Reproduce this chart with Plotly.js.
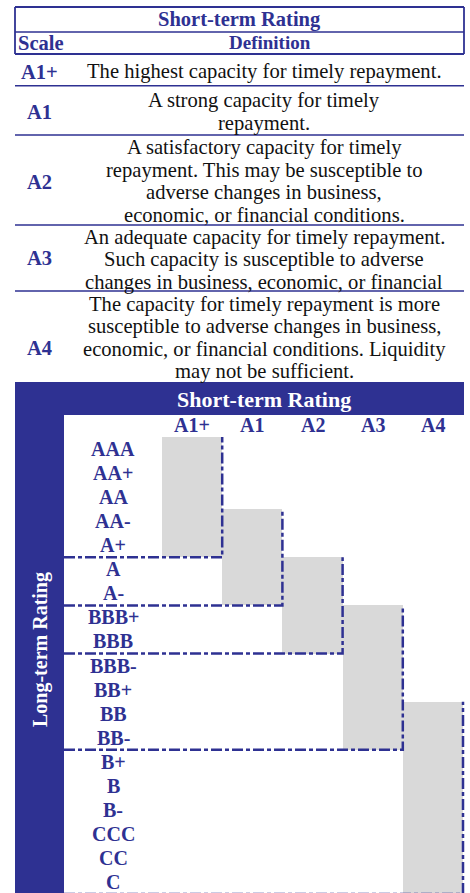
<!DOCTYPE html>
<html>
<head>
<meta charset="utf-8">
<script src="https://cdn.plot.ly/plotly-3.0.1.min.js"></script>
<style>html,body{margin:0;padding:0;background:#fff;}#chart{width:470px;height:893px;}</style>
</head>
<body>
<div id="chart"></div>
<script>
// ---------- DATA ----------
const tableTitle = 'Short-term Rating';
const tableHeaders = ['Scale', 'Definition'];
const scaleLabels = ['A1+', 'A1', 'A2', 'A3', 'A4'];
const definitions = [
  ['The highest capacity for timely repayment.'],
  ['A strong capacity for timely', 'repayment.'],
  ['A satisfactory capacity for timely', 'repayment. This may be susceptible to', 'adverse changes in business,', 'economic, or financial conditions.'],
  ['An adequate capacity for timely repayment.', 'Such capacity is susceptible to adverse', 'changes in business, economic, or financial'],
  ['The capacity for timely repayment is more', 'susceptible to adverse changes in business,', 'economic, or financial conditions. Liquidity', 'may not be sufficient.']
];
const shortTermTitle = 'Short-term Rating';
const longTermTitle = 'Long-term Rating';
const shortRatings = ['A1+', 'A1', 'A2', 'A3', 'A4'];
const longRatings = ['AAA', 'AA+', 'AA', 'AA-', 'A+', 'A', 'A-', 'BBB+', 'BBB', 'BBB-', 'BB+', 'BB', 'BB-', 'B+', 'B', 'B-', 'CCC', 'CC', 'C'];
const mapTop = ['AAA', 'AA-', 'A', 'BBB+', 'BB'];
const mapBottom = ['A+', 'A-', 'BBB', 'BB-', 'C'];

// ---------- LAYOUT CONSTANTS ----------
const W = 470, H = 893;
const BLUE = '#2e3192', GREY = '#d9d9d9';
const SERIF = '"Liberation Serif", "Times New Roman", serif';
const TL = 15, TR = 464;             // table left / right (px)
const rowEdges = [54, 85.7, 135, 225, 291, 382];
const labelY = [72, 112, 182, 258, 348];
const LINE_H = 22.5;
const GRID_LEFT = 162, COL_W = 60.2, ROW0 = 449, ROW_H = 24.06;
const BAND_R = 64, BAND_TOP = 382, BAND_BOT = 415;

const px = p => p / W;
const py = p => 1 - p / H;
const dx = p => -0.5 + (p - GRID_LEFT) / COL_W;
const dy = p => (p - ROW0) / ROW_H;

const shapes = [];
const annotations = [];
function pline(x0, y0, x1, y1, w) {
  shapes.push({type: 'line', xref: 'paper', yref: 'paper', x0: px(x0), y0: py(y0), x1: px(x1), y1: py(y1),
    line: {color: BLUE, width: w}});
}
function ptext(x, y, text, size, color, bold, anchor) {
  annotations.push({xref: 'paper', yref: 'paper', x: px(x), y: py(y), text: bold ? '<b>' + text + '</b>' : text,
    showarrow: false, xanchor: anchor || 'center', yanchor: 'middle',
    font: {family: SERIF, size: size, color: color}});
}

// ---------- TOP TABLE ----------
pline(TL, 7, TR, 7, 1.8);
pline(TL, 32, TR, 32, 1.5);
pline(TL, 54, TR, 54, 1.8);
pline(TL, 7, TL, 54, 1.8);
pline(TR, 7, TR, 54, 1.8);
ptext((TL + TR) / 2, 20, tableTitle, 20.5, BLUE, true);
ptext(TL + 1, 43, tableHeaders[0], 20.5, BLUE, true, 'left');
ptext(270, 43, tableHeaders[1], 19, BLUE, true);
definitions.forEach((lines, i) => {
  const top = rowEdges[i], bot = rowEdges[i + 1];
  const c = (top + bot) / 2 + 1.5;
  lines.forEach((ln, k) => {
    ptext(264, c + (k - (lines.length - 1) / 2) * LINE_H, ln, 20.6, '#111111', false);
  });
  ptext(39, labelY[i], scaleLabels[i], 20.5, BLUE, true);
  if (i < definitions.length - 1) pline(TL, bot, TR, bot, 1.5);
});

// ---------- BANDS ----------
shapes.push({type: 'rect', xref: 'paper', yref: 'paper', x0: px(TL), x1: px(TR), y0: py(BAND_BOT), y1: py(BAND_TOP),
  fillcolor: BLUE, line: {width: 0}, layer: 'below'});
shapes.push({type: 'rect', xref: 'paper', yref: 'paper', x0: px(TL), x1: px(BAND_R), y0: 0, y1: py(BAND_TOP),
  fillcolor: BLUE, line: {width: 0}, layer: 'below'});
ptext(264, 399, shortTermTitle, 22, '#ffffff', true);
annotations.push({xref: 'paper', yref: 'paper', x: px(40), y: py(650), text: '<b>' + longTermTitle + '</b>',
  showarrow: false, textangle: -90, xanchor: 'center', yanchor: 'middle',
  font: {family: SERIF, size: 20, color: '#ffffff'}});

// ---------- GRID (data coordinates) ----------
const ri = r => longRatings.indexOf(r);
const traces = [];
traces.push({
  type: 'bar',
  x: shortRatings.map((_, j) => j),
  base: mapTop.map(r => ri(r) - 0.5),
  y: mapTop.map((r, j) => ri(mapBottom[j]) - ri(r) + 1),
  width: 1,
  marker: {color: GREY, line: {width: 0}},
  hoverinfo: 'skip'
});
shortRatings.forEach((s, j) => {
  const yb = ri(mapBottom[j]) + 0.5, yt = ri(mapTop[j]) - 0.5;
  traces.push({
    type: 'scatter', mode: 'lines',
    x: [dx(BAND_R), j + 0.5, j + 0.5],
    y: [yb, yb, yt],
    line: {color: BLUE, width: 2.5, dash: '11px,3px,4px,3px'},
    hoverinfo: 'skip'
  });
});
shortRatings.forEach((s, j) => {
  annotations.push({xref: 'x', yref: 'y', x: j, y: -1, text: '<b>' + s + '</b>', showarrow: false,
    xanchor: 'center', yanchor: 'middle', font: {family: SERIF, size: 20, color: BLUE}});
});
longRatings.forEach((r, i) => {
  annotations.push({xref: 'x', yref: 'y', x: dx(113), y: i, text: '<b>' + r + '</b>', showarrow: false,
    xanchor: 'center', yanchor: 'middle', font: {family: SERIF, size: 20, color: BLUE}});
});

const layout = {
  width: W, height: H,
  margin: {l: 0, r: 0, t: 0, b: 0},
  paper_bgcolor: '#ffffff', plot_bgcolor: 'rgba(0,0,0,0)',
  showlegend: false,
  bargap: 0,
  xaxis: {domain: [0, 1], range: [dx(0), dx(W)], visible: false, fixedrange: true},
  yaxis: {domain: [0, 1], range: [dy(H), dy(0)], visible: false, fixedrange: true},
  shapes: shapes,
  annotations: annotations
};
Plotly.newPlot('chart', traces, layout, {staticPlot: true, displayModeBar: false});
</script>
</body>
</html>
